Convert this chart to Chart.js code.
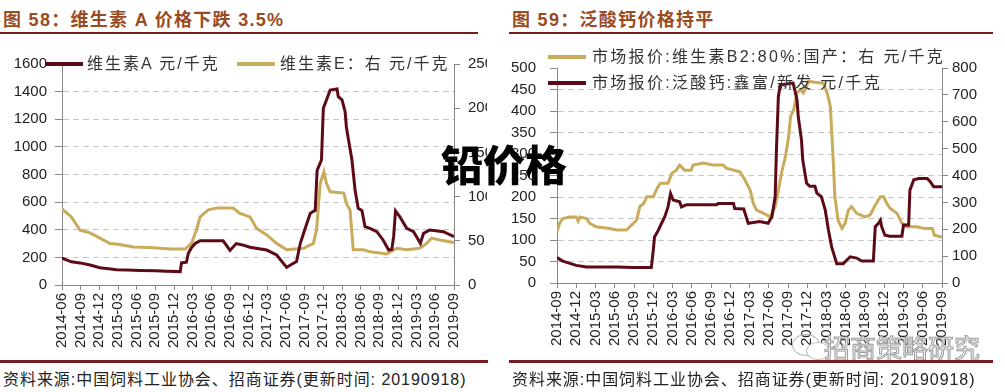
<!DOCTYPE html>
<html>
<head>
<meta charset="utf-8">
<script src="https://cdn.jsdelivr.net/npm/chart.js@4.4.0/dist/chart.umd.min.js"></script>
<style>
body{margin:0;background:#fff;width:1005px;height:392px;overflow:hidden;position:relative;font-family:"Liberation Sans","Noto Sans CJK SC",sans-serif}
.abs{position:absolute;white-space:nowrap}
.title{font-size:18px;font-weight:bold;color:#9a4b22;letter-spacing:1.3px;top:5px;font-family:"Liberation Sans","Noto Sans CJK SC",sans-serif}
.rule{position:absolute;height:2px;background:#7b1c1c}
.foot{font-size:16px;color:#222;top:366px;letter-spacing:0.95px;font-family:"Liberation Sans","Noto Sans CJK SC",sans-serif}
.leg{font-size:16px;color:#333;letter-spacing:2px;font-family:"Liberation Sans","Noto Sans CJK SC",sans-serif;line-height:20px}
.sw{position:absolute;height:4px;width:38px}
canvas{position:absolute}
</style>
</head>
<body>
<div class="abs title" style="left:3px">图 58：维生素 A 价格下跌 3.5%</div>
<div class="abs title" style="left:512px">图 59：泛酸钙价格持平</div>
<div class="rule" style="left:0;top:32px;width:478px"></div>
<div class="rule" style="left:509px;top:32px;width:484px"></div>

<canvas id="c1" width="487" height="320" style="left:0;top:40px"></canvas>
<canvas id="c2" width="505" height="320" style="left:500px;top:40px"></canvas>

<div class="sw" style="left:45px;top:62px;background:#5c0b16"></div>
<div class="abs leg" style="left:87px;top:54px">维生素A 元/千克</div>
<div class="sw" style="left:237px;top:62px;background:#c9ab5b"></div>
<div class="abs leg" style="left:280px;top:54px">维生素E：右 元/千克</div>

<div class="sw" style="left:548px;top:55px;background:#c9ab5b"></div>
<div class="abs leg" style="left:592px;top:47px;letter-spacing:2.3px">市场报价:维生素B2:80%:国产：右 元/千克</div>
<div class="sw" style="left:548px;top:81px;background:#5c0b16"></div>
<div class="abs leg" style="left:592px;top:73px;letter-spacing:2.3px">市场报价:泛酸钙:鑫富/新发 元/千克</div>

<div class="abs" style="left:441px;top:132px;font-size:42px;font-weight:900;color:#000;font-family:'Noto Sans CJK SC',sans-serif">铅价格</div>

<div class="abs" style="left:792px;top:334px;width:26px;height:20px;border:1.5px solid #bbb;border-radius:50%"></div>
<div class="abs" style="left:806px;top:342px;width:22px;height:16px;border:1.5px solid #bbb;border-radius:50%;background:#fff"></div>
<div class="abs" style="left:824px;top:328px;font-size:26px;color:#fff;-webkit-text-stroke:1px #999;font-family:'Noto Sans CJK SC',sans-serif">招商策略研究</div>

<div class="rule" style="left:0;top:360px;width:488px;height:3px"></div>
<div class="rule" style="left:509px;top:360px;width:484px;height:3px"></div>
<div class="abs foot" style="left:3px">资料来源:中国饲料工业协会、招商证券(更新时间: 20190918)</div>
<div class="abs foot" style="left:512px">资料来源:中国饲料工业协会、招商证券(更新时间: 20190918)</div>

<script>
// 图58: months since 2014-06
const vaT = [0,1.5,2.9,4.5,6.1,7.5,8.8,10.5,12.5,15,16.8,19,19.2,20.0,20.3,20.8,21.4,22.2,25.9,27.0,28.0,29.0,30.2,32.9,34.5,36.1,37.2,37.7,38.3,39.0,39.9,40.7,41.0,41.7,42.0,42.5,43.1,44.2,44.4,45.0,45.5,45.7,46.0,46.6,47.1,47.6,48.2,48.7,49.5,50.6,51.6,52.5,53.0,53.3,53.6,54.3,55.4,56.5,57.6,58.1,59.1,61.3,63]
const vaVal = [195,168,160,145,125,118,110,108,105,103,100,97,160,165,230,270,300,320,320,250,300,290,273,253,217,128,157,170,302,398,519,540,830,905,1280,1340,1412,1420,1363,1340,1255,1146,1062,905,688,555,540,422,410,386,326,253,257,350,536,494,410,386,302,374,398,386,350]
const veT = [0,1.5,2.9,4.5,6.1,7.7,9,11.5,14,17.5,19.8,20.8,21.6,22.2,23.5,24.9,27.5,28.6,30.2,31.3,32.9,34.5,36.1,38.8,40.4,40.9,41.5,42.1,42.5,43.1,45.3,45.7,46.3,46.8,48.4,49.5,52.2,53.8,55.4,57.5,58.6,59.4,60.7,63]
const veVal = [86,77,62,59,53,47,46,43,42.4,40.7,40.7,47,62,77,85,87,87,81,77,64,56.6,47,40,41.5,47,62,115,128,115,105.5,104,92,85,40,40,37.7,35,41.5,40,41.5,47,53,51,48]

// 图59: months since 2014-09
const caT = [0,0.9,3.0,4.6,9.3,11.9,14.7,15.0,15.2,15.8,16.3,16.8,17.3,17.7,18.1,19.1,19.4,20.2,24.9,25.1,27.5,27.7,29.1,29.8,31.6,32.9,33.5,34.0,34.2,34.5,34.8,36.8,37.1,37.4,37.6,38.1,38.3,38.9,39.4,40.2,40.5,41.2,41.8,42.3,42.8,43.6,44.6,45.7,46.7,47.5,49.3,49.6,50.1,50.4,50.6,51.1,51.9,53.75,54.0,54.8,55.0,55.6,56.4,57.7,58.2,58.7,60]
const caVal = [59,51,41,37,37,36,36,76,107,123,139,154,177,208,193,189,177,182,182,185,185,173,172,139,143,139,154,201,310,434,461,465,446,426,387,333,286,232,225,225,209,201,170,123,84,45,45,61,58,51,51,131,139,146,131,111,109,109,135,135,216,240,243,243,235,224,224]
const b2T = [0,0.4,0.9,2,3,3.3,3.6,4.6,5.1,6.1,8.2,9.3,10.8,11.9,12.4,12.9,13.5,14.0,15.0,15.6,16.1,17.3,17.9,18.6,19.1,19.9,20.9,21.2,22.8,24.3,25.9,26.4,27.5,28.5,29.3,30.1,30.6,31.1,32.2,33.2,34.0,34.5,35.1,35.6,36.1,36.4,36.9,37.4,37.9,38.4,39.2,41.5,42.1,42.6,43.1,43.3,43.8,44.4,44.9,45.4,45.9,46.7,48,48.8,49.6,50.4,50.9,51.4,51.9,53.0,53.75,54.5,56.1,57.2,58.5,58.8,60]
const b2Val = [190,222,240,246,246,230,246,240,222,209,203,197,197,222,234,284,296,321,321,352,371,371,408,420,439,420,420,439,446,439,439,427,420,414,383,346,296,271,259,246,284,346,421,470,545,620,645,707,719,707,750,743,707,657,433,321,234,203,222,271,284,259,246,253,290,321,321,296,278,259,222,209,209,203,203,178,171]

const DARK = '#5c0b16', GOLD = '#c9ab5b'
const TICK_FONT = {family:'Liberation Sans', size:15}

function pts(t, v){ return t.map((x,i)=>({x:x, y:v[i]})) }
function monthLabel(startYear, startMonth){
  return v => {
    const k = startMonth - 1 + Math.round(v)
    const y = startYear + Math.floor(k/12), m = k%12 + 1
    return y + '-' + (m<10 ? '0'+m : m)
  }
}

function makeChart(id, opt){
  const gridColor = ctx => (ctx.tick && (ctx.tick.value === 0 || ctx.tick.value === opt.lmax)) ? 'rgba(0,0,0,0)' : '#c6c6c6'
  return new Chart(document.getElementById(id), {
    type:'line',
    data:{datasets:[
      {data:pts(opt.d1.t, opt.d1.v), yAxisID:opt.d1.axis, borderColor:opt.d1.color, borderWidth:3, pointRadius:0, tension:0},
      {data:pts(opt.d2.t, opt.d2.v), yAxisID:opt.d2.axis, borderColor:opt.d2.color, borderWidth:3, pointRadius:0, tension:0}
    ]},
    options:{
      responsive:false, animation:false, devicePixelRatio:1,
      layout:{padding:{top:opt.top, left:0, right:0, bottom:0}},
      plugins:{legend:{display:false}, tooltip:{enabled:false}},
      scales:{
        x:{type:'linear', min:0, max:opt.xmax,
           afterFit: s => { s.height = opt.xh },
           afterBuildTicks: s => { s.ticks = []; for(let v=0; v<=opt.xmax; v+=3) s.ticks.push({value:v}) },
           ticks:{autoSkip:false, minRotation:90, maxRotation:90, color:'#222', font:TICK_FONT, padding:3, callback:monthLabel(opt.y0, opt.m0)},
           grid:{drawOnChartArea:false, tickLength:5, color:'#888'},
           border:{color:'#888'}},
        yl:{position:'left', min:0, max:opt.lmax,
           afterFit: s => { s.width = opt.lw },
           afterBuildTicks: s => { s.ticks = []; for(let v=0; v<=opt.lmax; v+=opt.lstep) s.ticks.push({value:v}) },
           ticks:{color:'#222', font:{family:'Liberation Sans', size:15}, padding:opt.lpad, callback: v => String(v)},
           grid:{color:gridColor, tickColor:'#888', tickLength:7, tickBorderDash:[]},
           border:{color:'#888', dash:[6,4]}},
        yr:{position:'right', min:0, max:opt.rmax,
           afterFit: s => { s.width = opt.rw },
           afterBuildTicks: s => { s.ticks = []; for(let v=0; v<=opt.rmax; v+=opt.rstep) s.ticks.push({value:v}) },
           ticks:{color:'#222', font:{family:'Liberation Sans', size:15}, padding:opt.rpad, callback: v => String(v)},
           grid:{drawOnChartArea:false, tickColor:'#888', tickLength:6},
           border:{color:'#888'}}
      }
    }
  })
}

makeChart('c1', {
  top:24, xh:75, xmax:63, y0:2014, m0:6,
  lmax:1600, lstep:200, lw:62, lpad:8,
  rmax:250, rstep:50, rw:33, rpad:8,
  d1:{t:vaT, v:vaVal, axis:'yl', color:DARK},
  d2:{t:veT, v:veVal, axis:'yr', color:GOLD}
})

makeChart('c2', {
  top:28, xh:77, xmax:60, y0:2014, m0:9,
  lmax:500, lstep:50, lw:57, lpad:14,
  rmax:800, rstep:100, rw:63, rpad:4,
  d1:{t:caT, v:caVal, axis:'yl', color:DARK},
  d2:{t:b2T, v:b2Val, axis:'yr', color:GOLD}
})
</script>
</body>
</html>
